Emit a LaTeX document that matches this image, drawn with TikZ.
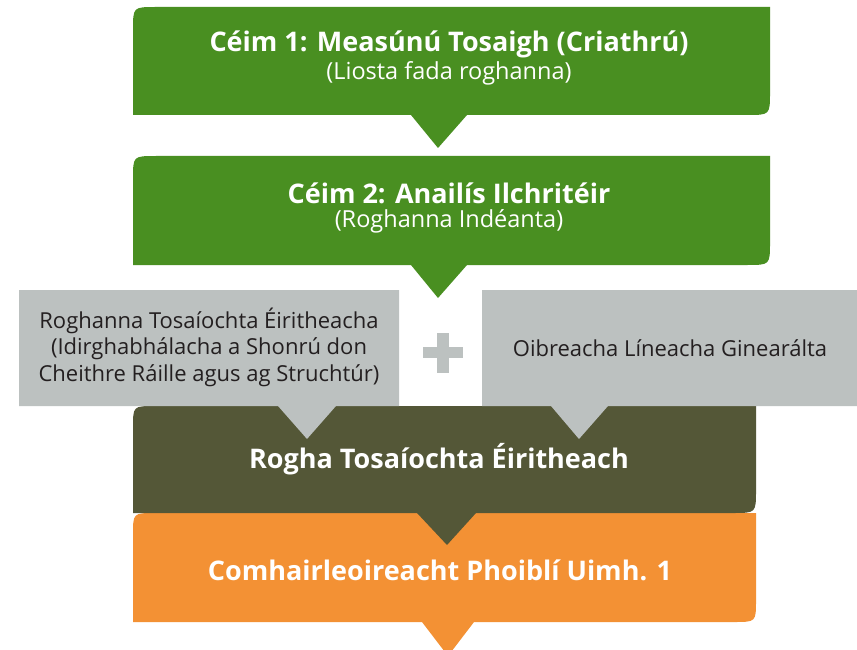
\documentclass[tikz,border=0pt]{standalone}
\usepackage{fontspec}
\setmainfont{Open Sans}
\definecolor{stepgreen}{RGB}{73,143,33}
\definecolor{olivebox}{RGB}{84,87,55}
\definecolor{orangebox}{RGB}{243,145,52}
\definecolor{greybox}{RGB}{188,193,192}
\definecolor{darktext}{RGB}{35,31,32}

\begin{document}
\begin{tikzpicture}[x=1pt, y=-1pt,
    headtext/.style={text=white, inner sep=0pt, font=\fontsize{27}{32}\selectfont\bfseries},
    subtext/.style={text=white, inner sep=0pt, font=\fontsize{23.5}{28}\selectfont},
    greytext/.style={text=darktext, inner sep=0pt, align=center, font=\fontsize{22}{26.5}\selectfont}]

	\clip (0,0) rectangle (857,650);
	\fill[white] (0,0) rectangle (857,650);

	% orange, olive (pointers overlap the box below)
	\fill[orangebox] (133,622) -- (133,535) .. controls (133,513) .. (155,513) -- (756,513) -- (756,600) .. controls (756,622) .. (734,622) -- (474,622) -- (448,656) -- (422,622) -- cycle;
	\fill[olivebox] (133,513) -- (133,428) .. controls (133,406) .. (155,406) -- (756,406) -- (756,490) .. controls (756,513) .. (733,513) -- (476,513) -- (447,545) -- (417,513) -- cycle;

	% grey boxes
	\fill[greybox] (19,290) -- (399,290) -- (399,406) -- (336,406) -- (307,439) -- (278,406) -- (19,406) -- cycle;
	\fill[greybox] (482,290) -- (857,290) -- (857,406) -- (608,406) -- (579,439) -- (551,406) -- (482,406) -- cycle;
	\fill[greybox] (423,347) rectangle (463,358);
	\fill[greybox] (437,333) rectangle (449,373);

	% green steps
	\fill[stepgreen] (133,115) -- (133,30) .. controls (133,7) .. (156,7) -- (770,7) -- (770,92) .. controls (770,115) .. (747,115) -- (467,115) -- (438,148) -- (411,115) -- cycle;
	\fill[stepgreen] (133,265) -- (133,179) .. controls (133,156) .. (156,156) -- (770,156) -- (770,242) .. controls (770,265) .. (747,265) -- (467,265) -- (438,298) -- (411,265) -- cycle;

	\node[headtext] (stepone) at (449,44) {Céim 1: Measúnú Tosaigh (Criathrú)};
	\node[subtext] (stepone sub) at (449,73) {(Liosta fada roghanna)};
	\node[headtext] (steptwo) at (449,193) {Céim 2: Anailís Ilchritéir};
	\node[subtext] (steptwo sub) at (449,221) {(Roghanna Indéanta)};
	\node[greytext] (emerging) at (209,347) {Roghanna Tosaíochta Éiritheacha\\(Idirghabhálacha a Shonrú don\\Cheithre Ráille agus ag Struchtúr)};
	\node[greytext] (linework) at (670,348) {Oibreacha Líneacha Ginearálta};
	\node[headtext] (preferred) at (439,459) {Rogha Tosaíochta Éiritheach};
	\node[headtext] (consult) at (440,570) {Comhairleoireacht Phoiblí Uimh. 1};
\end{tikzpicture}
\end{document}
